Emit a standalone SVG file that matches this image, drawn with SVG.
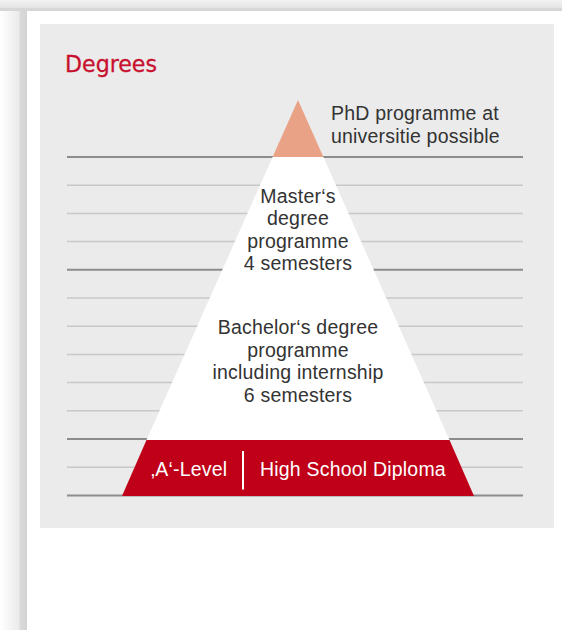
<svg xmlns="http://www.w3.org/2000/svg" width="562" height="630" viewBox="0 0 562 630">
  <defs>
    <linearGradient id="gl" x1="0" y1="0" x2="1" y2="0">
      <stop offset="0" stop-color="#ffffff"/>
      <stop offset="0.7" stop-color="#ebebeb"/>
      <stop offset="0.75" stop-color="#dadada"/>
      <stop offset="1" stop-color="#d4d4d4"/>
    </linearGradient>
    <linearGradient id="gt" x1="0" y1="0" x2="0" y2="1">
      <stop offset="0" stop-color="#f3f3f3"/>
      <stop offset="0.7" stop-color="#e4e4e4"/>
      <stop offset="0.72" stop-color="#d8d8d8"/>
      <stop offset="1" stop-color="#d6d6d6"/>
    </linearGradient>
    <style>
      .dark { stroke: #8c8c8c; stroke-width: 2; }
      .light { stroke: #c8c8c8; stroke-width: 1.5; }
      .txt { font-family: "Liberation Sans", Arial, sans-serif; font-size: 19.5px; letter-spacing: 0.2px; fill: #333333; }
      .mid { text-anchor: middle; }
      .wht { fill: #ffffff; }
    </style>
  </defs>
  <rect width="562" height="630" fill="#ffffff"/>
  <rect x="0" y="0" width="27" height="630" fill="url(#gl)"/>
  <rect x="0" y="0" width="562" height="11" fill="url(#gt)"/>
  <path d="M27 19 Q27 11 35 11 L562 11 L562 630 L27 630 Z" fill="#ffffff"/>
  <rect id="panel" x="40" y="24" width="514" height="504" fill="#ebebeb"/>
  <text id="title" x="65" y="72" font-family="DejaVu Sans, sans-serif" font-size="23" fill="#c8102e" stroke="#c8102e" stroke-width="0.3" textLength="92" lengthAdjust="spacingAndGlyphs">Degrees</text>
  <g id="grid">
    <line class="dark" x1="67" y1="157" x2="523" y2="157"/>
    <line class="light" x1="67" y1="185.2" x2="523" y2="185.2"/>
    <line class="light" x1="67" y1="213.4" x2="523" y2="213.4"/>
    <line class="light" x1="67" y1="241.6" x2="523" y2="241.6"/>
    <line class="dark" x1="67" y1="269.8" x2="523" y2="269.8"/>
    <line class="light" x1="67" y1="298" x2="523" y2="298"/>
    <line class="light" x1="67" y1="326.2" x2="523" y2="326.2"/>
    <line class="light" x1="67" y1="354.4" x2="523" y2="354.4"/>
    <line class="light" x1="67" y1="382.6" x2="523" y2="382.6"/>
    <line class="light" x1="67" y1="410.8" x2="523" y2="410.8"/>
    <line class="dark" x1="67" y1="439" x2="523" y2="439"/>
    <line class="light" x1="67" y1="467.2" x2="523" y2="467.2"/>
    <line class="dark" x1="67" y1="495.4" x2="523" y2="495.4"/>
  </g>
  <g id="phd">
    <polygon points="298,100 323.4,157 272.6,157" fill="#e9a286"/>
    <text class="txt" x="331" y="120">PhD programme at</text>
    <text class="txt" x="331" y="143">universitie possible</text>
  </g>
  <g id="master">
    <polygon points="272.6,157 323.4,157 449.5,440 146.5,440" fill="#ffffff"/>
    <text class="txt mid" x="298" y="202.5">Master‘s</text>
    <text class="txt mid" x="298" y="225">degree</text>
    <text class="txt mid" x="298" y="247.5">programme</text>
    <text class="txt mid" x="298" y="270">4 semesters</text>
  </g>
  <g id="bachelor">
    <text class="txt mid" x="298" y="334">Bachelor‘s degree</text>
    <text class="txt mid" x="298" y="356.5">programme</text>
    <text class="txt mid" x="298" y="379">including internship</text>
    <text class="txt mid" x="298" y="401.5">6 semesters</text>
  </g>
  <g id="school">
    <polygon points="146.5,440 449.5,440 474,496 122,496" fill="#bf0018"/>
    <text class="txt wht mid" x="189" y="476">‚A‘-Level</text>
    <line x1="243" y1="451" x2="243" y2="489.5" stroke="#ffffff" stroke-width="2"/>
    <text class="txt wht" x="260" y="476">High School Diploma</text>
  </g>
</svg>
